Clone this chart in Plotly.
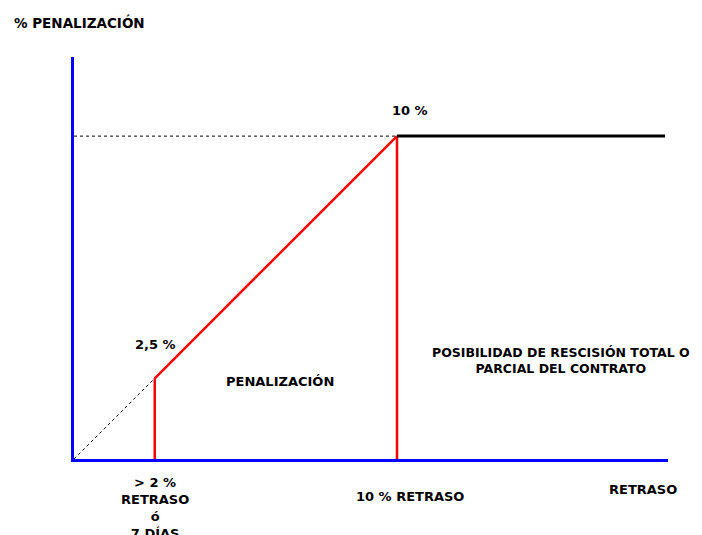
import plotly.graph_objects as go

# Data (units: % retraso on x, % penalización on y)
dotted_diag_x = [0, 2.5]
dotted_diag_y = [0, 2.5]
red_slope_x = [2.5, 10]
red_slope_y = [2.5, 10]
red_v1_x = [2.5, 2.5]
red_v1_y = [0, 2.5]
red_v2_x = [10, 10]
red_v2_y = [0, 10]
dotted_h_x = [0, 10]
dotted_h_y = [10, 10]
cap_x = [10, 18.3]
cap_y = [10, 10]

X_MAX = 18.39
Y_MAX = 12.45

FONT = "DejaVu Sans"

# page offset of the default body margin
OFF = 8
W, H = 702 - OFF, 535 - OFF
L, T, R, B = 74 - OFF, 57 - OFF, 34, 76
PW, PH = W - L - R, H - T - B

fig = go.Figure()

def line(x, y, color, width, dash="solid"):
    fig.add_trace(go.Scatter(x=x, y=y, mode="lines",
                             line=dict(color=color, width=width, dash=dash),
                             hoverinfo="skip", showlegend=False, cliponaxis=False))

line(dotted_diag_x, dotted_diag_y, "black", 1, "dot")
line(dotted_h_x, dotted_h_y, "black", 1, "dot")
line(red_v1_x, red_v1_y, "red", 2.5)
line(red_v2_x, red_v2_y, "red", 2.5)
line(red_slope_x, red_slope_y, "red", 2.5)
line(cap_x, cap_y, "black", 3)

def ann(text, px, py, xanchor="center", yanchor="middle", size=13):
    # px, py: page pixel position
    fx, fy = px - OFF, py - OFF
    fig.add_annotation(text=text, x=(fx - L) / PW, y=(T + PH - fy) / PH,
                       xref="paper", yref="paper", showarrow=False,
                       xanchor=xanchor, yanchor=yanchor, align="center",
                       font=dict(family=FONT, size=size, color="black"))

ann("<b>% PENALIZACIÓN</b>", 12, 22, xanchor="left", size=13.5)
ann("<b>2,5 %</b>", 155, 344)
ann("<b>10 %</b>", 410, 110)
ann("<b>PENALIZACIÓN</b>", 280, 381)
ann("<b>POSIBILIDAD DE RESCISIÓN TOTAL O<br>PARCIAL DEL CONTRATO</b>", 561, 360, size=12.5)
ann("<b>&gt; 2 %<br>RETRASO<br>ó<br>7 DÍAS</b>", 155, 473, yanchor="top")
ann("<b>10 % RETRASO</b>", 410, 497)
ann("<b>RETRASO</b>", 643, 489)

fig.update_layout(
    width=W, height=H,
    margin=dict(l=L, r=R, t=T, b=B),
    plot_bgcolor="white", paper_bgcolor="white",
    xaxis=dict(range=[0, X_MAX], showgrid=False, zeroline=False, showticklabels=False,
               ticks="", showline=True, linecolor="blue", linewidth=3, fixedrange=True),
    yaxis=dict(range=[0, Y_MAX], showgrid=False, zeroline=False, showticklabels=False,
               ticks="", showline=True, linecolor="blue", linewidth=3, fixedrange=True),
    showlegend=False,
)

fig.write_html("out.html")
